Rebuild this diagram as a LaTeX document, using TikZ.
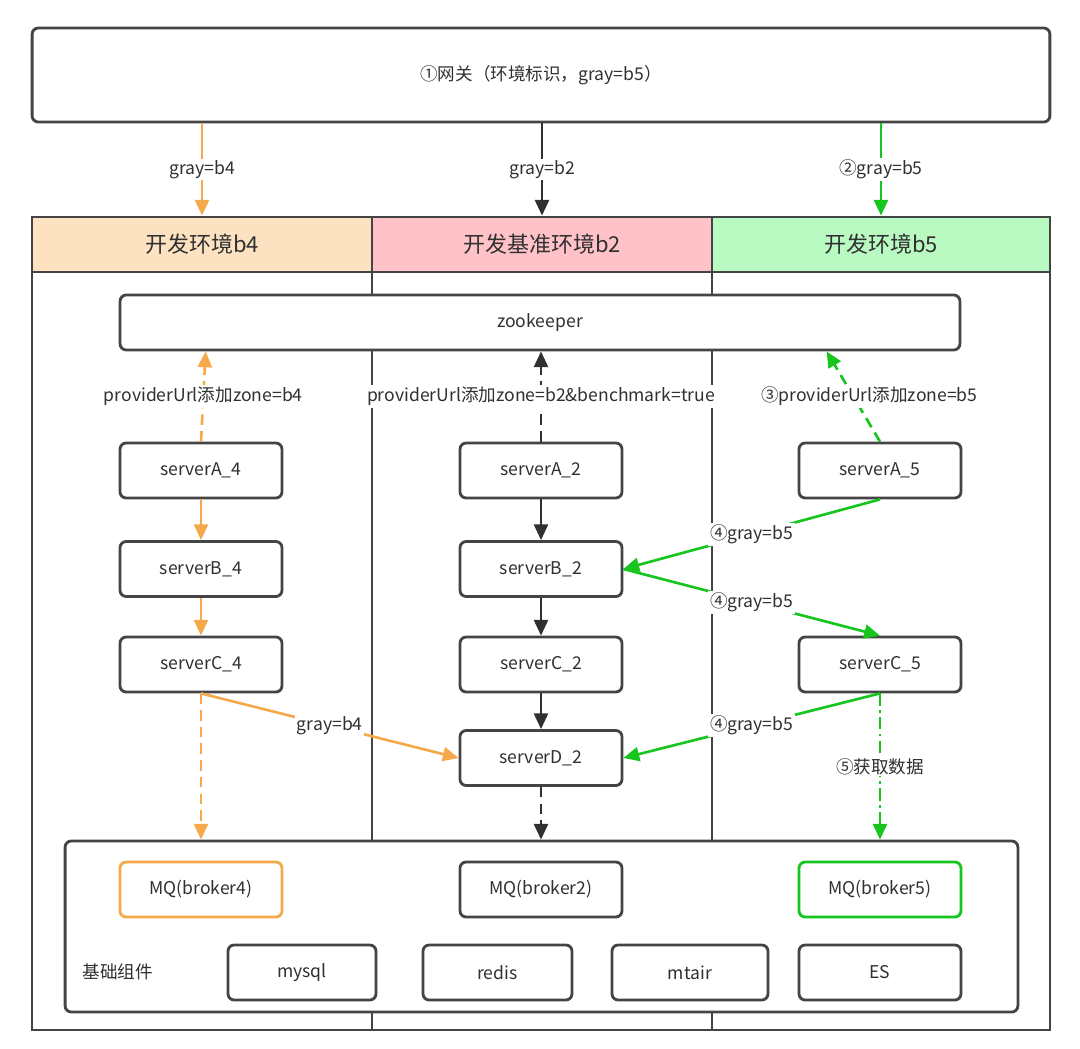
\documentclass[tikz,border=0pt]{standalone}
\usepackage{fontspec}
\setmainfont{Noto Sans CJK SC}
\usetikzlibrary{arrows.meta,calc}
\definecolor{lineg}{HTML}{444444}
\definecolor{txt}{HTML}{303030}
\definecolor{org}{HTML}{F5A94A}
\definecolor{grn}{HTML}{16C61E}
\definecolor{hdro}{HTML}{FDE2C2}
\definecolor{hdrp}{HTML}{FFC2C9}
\definecolor{hdrg}{HTML}{B9FAC2}
\tikzset{
  box/.style={draw=lineg,line width=1.6pt,rounded corners=3.5pt,fill=white,text=txt,
    font=\fontsize{10}{12}\selectfont,minimum width=3.24cm,minimum height=1.1cm},
  hdr/.style={draw=lineg,line width=1.6pt,text=txt,font=\fontsize{12.5}{14}\selectfont,
    minimum width=6.8cm,minimum height=1.1cm},
  lbl/.style={fill=white,text=txt,font=\fontsize{10}{12}\selectfont,inner sep=1pt},
  arr/.style={line width=1.5pt,-{Triangle[length=9pt,width=8pt]}},
  odash/.style={dash pattern=on 6pt off 3.5pt},
  gdot/.style={dash pattern=on 7pt off 2.5pt on 1.5pt off 2.5pt}
}
\begin{document}
\begin{tikzpicture}[x=0.02cm,y=-0.02cm]
\useasboundingbox (0,0) rectangle (1080,1049);
% gateway
\node[box,minimum width=20.36cm,minimum height=1.88cm] (gw) at (541,75) {①网关（环境标识，gray=b5）};
% environment frame
\draw[lineg,line width=1.6pt] (32,217) rectangle (1050,1030);
\draw[lineg,line width=1.6pt] (372,217) -- (372,1030);
\draw[lineg,line width=1.6pt] (712,217) -- (712,1030);
\node[hdr,fill=hdro] (h4) at (202,244.5) {开发环境b4};
\node[hdr,fill=hdrp] (h2) at (542,244.5) {开发基准环境b2};
\node[hdr,fill=hdrg,minimum width=6.76cm] (h5) at (881,244.5) {开发环境b5};
% registry
\node[box,minimum width=16.8cm] (zk) at (540,322.5) {zookeeper};
% servers
\node[box] (A4) at (201,470.5) {serverA\_4};
\node[box] (B4) at (201,569) {serverB\_4};
\node[box] (C4) at (201,664.5) {serverC\_4};
\node[box] (A2) at (541,470.5) {serverA\_2};
\node[box] (B2) at (541,569) {serverB\_2};
\node[box] (C2) at (541,664.5) {serverC\_2};
\node[box] (D2) at (541,758) {serverD\_2};
\node[box] (A5) at (880,470.5) {serverA\_5};
\node[box] (C5) at (880,664.5) {serverC\_5};
% base components
\node[box,minimum width=19.06cm,minimum height=3.42cm] (base) at (541.5,926.5) {};
\node[box,draw=org] (mq4) at (201,889.5) {MQ(broker4)};
\node[box] (mq2) at (541,889.5) {MQ(broker2)};
\node[box,draw=grn] (mq5) at (880,889.5) {MQ(broker5)};
\node[box,minimum width=2.96cm] (mysql) at (302,972.5) {mysql};
\node[box,minimum width=2.98cm] (redis) at (497.5,972.5) {redis};
\node[box,minimum width=3.12cm] (mtair) at (690,972.5) {mtair};
\node[box] (es) at (880,972.5) {ES};
\node[lbl] (basetitle) at (118,972) {基础组件};
% gateway -> environments
\draw[arr,org] (gw.south -| h4.north) -- node[lbl]{gray=b4} (h4.north);
\draw[arr,txt] (gw.south -| h2.north) -- node[lbl]{gray=b2} (h2.north);
\draw[arr,grn] (gw.south -| h5.north) -- node[lbl]{②gray=b5} (h5.north);
% register to zookeeper
\draw[arr,org,odash] (A4.north) -- node[lbl]{providerUrl添加zone=b4} ($(zk.south west)+(87,0)$);
\draw[arr,txt,odash] (A2.north) -- node[lbl,minimum width=6.7cm]{providerUrl添加zone=b2\&benchmark=true} (zk.south -| A2.north);
\draw[arr,grn,odash] (A5.north) -- node[lbl,xshift=0.32cm]{③providerUrl添加zone=b5} ($(zk.south west)+(708,0)$);
% b4 chain
\draw[arr,org] (A4) -- (B4);
\draw[arr,org] (B4) -- (C4);
\draw[arr,org,odash] (C4.south) -- (C4.south |- base.north);
\draw[arr,org] (C4.south) -- node[lbl]{gray=b4} (D2.west);
% b2 chain
\draw[arr,txt] (A2) -- (B2);
\draw[arr,txt] (B2) -- (C2);
\draw[arr,txt] (C2) -- (D2);
\draw[arr,txt,odash] (D2.south) -- (D2.south |- base.north);
% b5 chain
\draw[arr,grn] (A5.south) -- node[lbl]{④gray=b5} (B2.east);
\draw[arr,grn] (B2.east) -- node[lbl]{④gray=b5} (C5.north);
\draw[arr,grn] (C5.south) -- node[lbl]{④gray=b5} (D2.east);
\draw[arr,grn,gdot] (C5.south) -- node[lbl]{⑤获取数据} (C5.south |- base.north);
\end{tikzpicture}
\end{document}
